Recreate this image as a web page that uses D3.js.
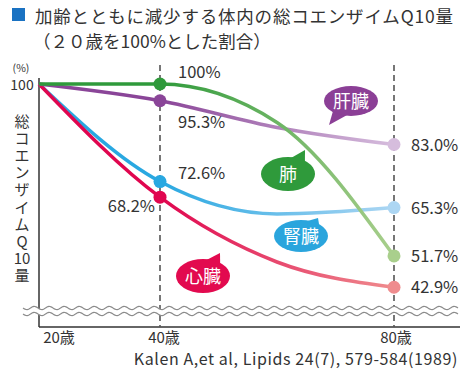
<!DOCTYPE html>
<html>
<head>
<meta charset="utf-8">
<script src="https://cdn.jsdelivr.net/npm/d3@7"></script>
<style>
  body { margin: 0; background: #fff; }
  text { font-family: "Noto Sans CJK JP", "Noto Sans", sans-serif; fill: #333; }
</style>
</head>
<body>
<div id="vizArea"></div>
<script>
var w = 470
var h = 377

// DATA ********************************
var ages = [20, 40, 60, 80]
var liver = [100, 95.3, 87.8, 83.0]
var lung = [100, 100, 89.2, 51.7]
var kidney = [100, 72.6, 63.5, 65.3]
var heart = [100, 68.2, 50.0, 42.9]
var markedAges = [40, 80]
var tickAges = [20, 40, 80]
var tickLabels = ["20歳", "40歳", "80歳"]
var organNames = ["肝臓", "肺", "腎臓", "心臓"]

var series = [
    {name: organNames[1], values: lung, dark: "#2f9a3b", light: "#a9cf8c"},
    {name: organNames[0], values: liver, dark: "#8a4598", light: "#d6bddd"},
    {name: organNames[2], values: kidney, dark: "#29a8e1", light: "#acd6f3"},
    {name: organNames[3], values: heart, dark: "#e0064f", light: "#ef8c8e"}
]

// SCALES ******************************
var x = d3.scaleLinear().domain([20, 40, 80]).range([39, 160, 394])
var y = d3.scaleLinear().domain([0, 100]).range([440, 84])

var svg = d3.select("#vizArea").append("svg")
    .attr("width", w)
    .attr("height", h)

var defs = svg.append("defs")

// title
svg.append("rect").attr("x", 12).attr("y", 8).attr("width", 13).attr("height", 13).attr("fill", "#1a72c2")
svg.append("text").attr("x", 35).attr("y", 23).style("font-size", "17.5px")
    .style("letter-spacing", "0.8px")
    .text("加齢とともに減少する体内の総コエンザイムQ10量")
svg.append("text").attr("x", 33).attr("y", 48).style("font-size", "17.5px")
    .text("（２０歳を100%とした割合）")

// y axis label (vertical), one text with a tspan per glyph
var yLabel = ["総", "コ", "エ", "ン", "ザ", "イ", "ム", "Q", "10", "量"]
svg.append("text")
    .attr("text-anchor", "middle")
    .style("font-size", "15px")
    .selectAll("tspan")
    .data(yLabel)
    .enter().append("tspan")
    .attr("x", 22)
    .attr("y", function(d, i){ return 127 + i * 17.1 })
    .text(function(d){ return d })

svg.append("text").attr("x", 21).attr("y", 72).attr("text-anchor", "middle")
    .style("font-size", "10.5px").text("(%)")
svg.append("text").attr("x", 22).attr("y", 89.5).attr("text-anchor", "middle")
    .style("font-size", "14px").text("100")

// axes
svg.append("line").attr("x1", x(20)).attr("x2", x(20)).attr("y1", 78).attr("y2", 327)
    .attr("stroke", "#333").attr("stroke-width", 1.5)
svg.append("line").attr("x1", x(20)).attr("x2", 460).attr("y1", 327).attr("y2", 327)
    .attr("stroke", "#333").attr("stroke-width", 1.5)

// dashed guides
svg.append("g").selectAll("line")
    .data(markedAges)
    .enter().append("line")
    .attr("x1", function(d){ return x(d) })
    .attr("x2", function(d){ return x(d) })
    .attr("y1", 65).attr("y2", 327)
    .attr("stroke", "#555").attr("stroke-width", 1.6)
    .attr("stroke-dasharray", "6,4")

// x tick labels
svg.append("g").selectAll("text")
    .data(tickAges)
    .enter().append("text")
    .attr("x", function(d, i){ return x(d) + [20, 4, 2][i] })
    .attr("y", 343)
    .attr("text-anchor", "middle")
    .style("font-size", "15px")
    .text(function(d, i){ return tickLabels[i] })

// LINES *******************************
var line = d3.line()
    .x(function(d, i){ return x(ages[i]) })
    .y(function(d){ return y(d) })
    .curve(d3.curveMonotoneX)

series.forEach(function(s, k){
    var grad = defs.append("linearGradient")
        .attr("id", "grad" + k)
        .attr("gradientUnits", "userSpaceOnUse")
        .attr("x1", x(40)).attr("x2", x(80)).attr("y1", 0).attr("y2", 0)
    grad.append("stop").attr("offset", 0).attr("stop-color", s.dark)
    grad.append("stop").attr("offset", 1).attr("stop-color", s.light)
})

var order = [2, 3, 1, 0]
order.forEach(function(k){
    var s = series[k]
    svg.append("path")
        .attr("d", line(s.values))
        .attr("fill", "none")
        .attr("stroke", "url(#grad" + k + ")")
        .attr("stroke-width", 3.5)
})

// markers at 40 and 80
order.forEach(function(k){
    var s = series[k]
    markedAges.forEach(function(a){
        var i = ages.indexOf(a)
        svg.append("circle")
            .attr("cx", x(a))
            .attr("cy", y(s.values[i]))
            .attr("r", 6.5)
            .attr("fill", a == 40 ? s.dark : s.light)
    })
})

// value labels
var fmt = function(v){ return (v == 100 ? "100" : v.toFixed(1)) + "%" }
// offsets for labels at 40歳: [dx, dy, anchor]
var offsets40 = {"肺": [18, -6, "start"], "肝臓": [18, 27, "start"], "腎臓": [18, -3, "start"], "心臓": [-5, 15, "end"]}
series.forEach(function(s){
    var i40 = ages.indexOf(40)
    var o = offsets40[s.name]
    svg.append("text")
        .attr("x", x(40) + o[0])
        .attr("y", y(s.values[i40]) + o[1])
        .attr("text-anchor", o[2])
        .style("font-size", "16.5px")
        .text(fmt(s.values[i40]))
    var i80 = ages.indexOf(80)
    svg.append("text")
        .attr("x", x(80) + 17)
        .attr("y", y(s.values[i80]) + 6)
        .style("font-size", "16.5px")
        .text(fmt(s.values[i80]))
})

// BUBBLES *****************************
var bubbles = [
    {name: "肝臓", color: "#8b3f96", cx: 351, cy: 101, rx: 27, ry: 15, tx: 329, ty: 125},
    {name: "肺", color: "#2f9a3b", cx: 288, cy: 174, rx: 27, ry: 17, tx: 305, ty: 150},
    {name: "腎臓", color: "#2aa5dd", cx: 301, cy: 236, rx: 27, ry: 16, tx: 318, ty: 218},
    {name: "心臓", color: "#e20a4f", cx: 203, cy: 276, rx: 27, ry: 17, tx: 220, ty: 253}
]

bubbles.forEach(function(b){
    var g = svg.append("g")
    var ang = Math.atan2((b.ty - b.cy) / b.ry, (b.tx - b.cx) / b.rx)
    var p1 = [b.cx + b.rx * 0.9 * Math.cos(ang - 0.35), b.cy + b.ry * 0.9 * Math.sin(ang - 0.35)]
    var p2 = [b.cx + b.rx * 0.9 * Math.cos(ang + 0.35), b.cy + b.ry * 0.9 * Math.sin(ang + 0.35)]
    g.append("path")
        .attr("d", "M" + p1 + "L" + [b.tx, b.ty] + "L" + p2 + "Z")
        .attr("fill", b.color)
    g.append("ellipse")
        .attr("cx", b.cx).attr("cy", b.cy).attr("rx", b.rx).attr("ry", b.ry)
        .attr("fill", b.color)
    g.append("text")
        .attr("x", b.cx).attr("y", b.cy + 6.5)
        .attr("text-anchor", "middle")
        .style("font-size", "18px")
        .style("fill", "#fff")
        .text(b.name)
})

// BREAK MARK (wavy lines) ***************
var wave = function(y0){
    return d3.range(23, 459, 1).map(function(px){
        return [px, y0 + 1.6 * Math.sin((px - 23) / 15 * 2 * Math.PI)]
    })
}
var waveTop = wave(308), waveBot = wave(314)
svg.append("path")
    .attr("d", d3.line()(waveTop.concat(waveBot.slice().reverse())) + "Z")
    .attr("fill", "#fff")
;[waveTop, waveBot].forEach(function(pts){
    svg.append("path")
        .attr("d", d3.line()(pts))
        .attr("fill", "none")
        .attr("stroke", "#8a8a8a")
        .attr("stroke-width", 1.2)
})

// citation
svg.append("text")
    .attr("x", 458).attr("y", 365)
    .attr("text-anchor", "end")
    .style("font-size", "16px")
    .style("letter-spacing", "0.6px")
    .text("Kalen A,et al, Lipids 24(7), 579-584(1989)")
</script>
</body>
</html>
